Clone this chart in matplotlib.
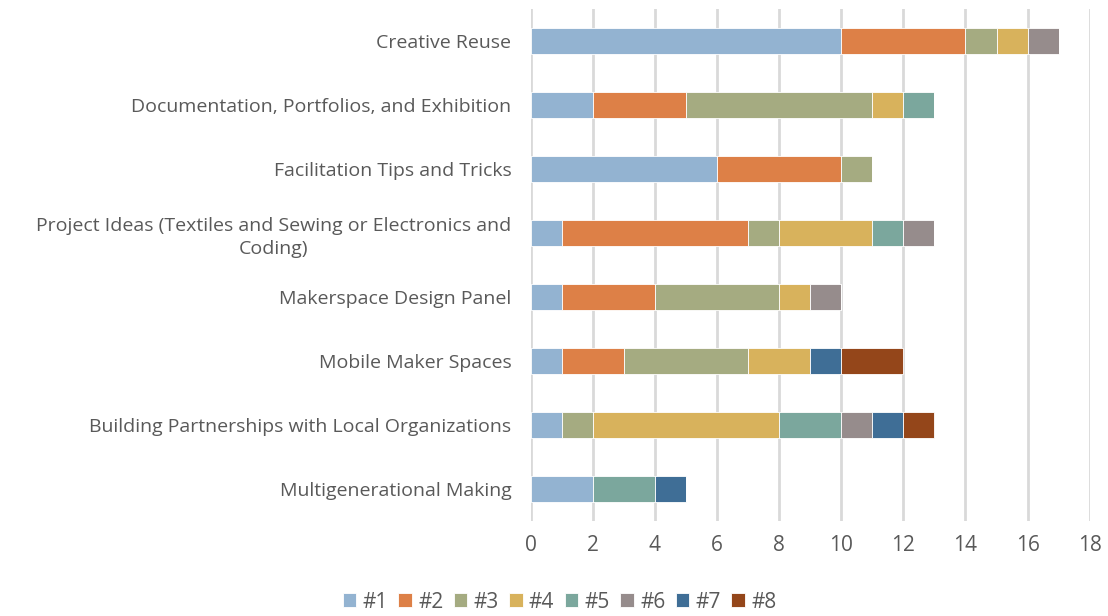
import numpy as np
import matplotlib.pyplot as plt

plt.rcParams['font.family'] = ['Open Sans', 'DejaVu Sans']

categories = ['Creative Reuse',
              'Documentation, Portfolios, and Exhibition',
              'Facilitation Tips and Tricks',
              'Project Ideas (Textiles and Sewing or Electronics and\nCoding)',
              'Makerspace Design Panel',
              'Mobile Maker Spaces',
              'Building Partnerships with Local Organizations',
              'Multigenerational Making']

series = ['#1', '#2', '#3', '#4', '#5', '#6', '#7', '#8']

r1 = [10, 2, 6, 1, 1, 1, 1, 2]
r2 = [4, 3, 4, 6, 3, 2, 0, 0]
r3 = [1, 6, 1, 1, 4, 4, 1, 0]
r4 = [1, 1, 0, 3, 1, 2, 6, 0]
r5 = [0, 1, 0, 1, 0, 0, 2, 2]
r6 = [1, 0, 0, 1, 1, 0, 1, 0]
r7 = [0, 0, 0, 0, 0, 1, 1, 1]
r8 = [0, 0, 0, 0, 0, 2, 1, 0]
values = [r1, r2, r3, r4, r5, r6, r7, r8]

colors = ['#93B3D1', '#DD8047', '#A5AB81', '#D8B25C', '#7BA79D', '#968C8C', '#3F6E96', '#94461A']

fig = plt.figure(figsize=(11.08, 6.16), dpi=100)
ax = fig.add_axes([0.479, 0.154, 0.5045, 0.831])

y = np.arange(len(categories))
left = np.zeros(len(categories))
for name, vals, c in zip(series, values, colors):
    vals = np.array(vals, dtype=float)
    ax.barh(y, vals, left=left, height=0.4, color=c, label=name,
            edgecolor='white', linewidth=0.6, zorder=3)
    left += vals

ax.set_ylim(len(categories) - 0.5, -0.5)
ax.set_xlim(0, 18)
ax.set_xticks(range(0, 19, 2))
ax.set_yticks(y)
ax.set_yticklabels(categories, fontsize=14, color='#595959', ha='right',
                   multialignment='center', linespacing=1.35)
ax.tick_params(axis='y', length=0, pad=14)
ax.tick_params(axis='x', length=0, labelsize=15, labelcolor='#595959', pad=10)
ax.grid(axis='x', color='#D9D9D9', linewidth=2, zorder=0)
for s in ax.spines.values():
    s.set_visible(False)

leg = fig.legend(loc='lower center', bbox_to_anchor=(0.505, -0.025), ncol=8,
                 frameon=False, fontsize=15, handlelength=0.65, handleheight=0.65,
                 columnspacing=0.5, handletextpad=0.3, labelcolor='#595959')

fig.savefig('out.png', dpi=100)
